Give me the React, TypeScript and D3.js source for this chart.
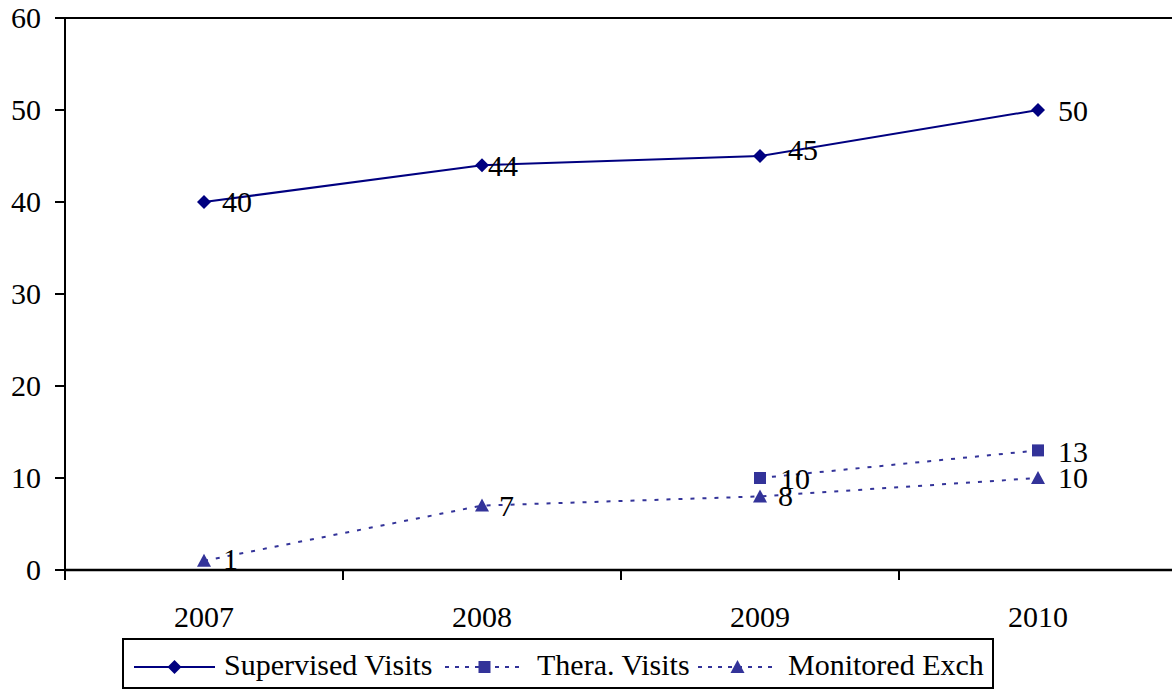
import React from "react";
import * as d3 from "d3";

const years = ["2007", "2008", "2009", "2010"];
const supervised: (number | null)[] = [40, 44, 45, 50];
const thera: (number | null)[] = [null, null, 10, 13];
const monitored: (number | null)[] = [1, 7, 8, 10];
const yTicks = [0, 10, 20, 30, 40, 50, 60];

const W = 1172, H = 690;
const left = 65, right = 1177, top = 18, bottom = 570;
const FONT = "Liberation Serif";

type Series = {
  name: string;
  values: (number | null)[];
  color: string;
  dash: string | null;
  legendDash: string | null;
  marker: "diamond" | "square" | "triangle";
  // label nudges (layout only): [dx, dy] per point
  nudge: [number, number][];
};
const series: Series[] = [
  { name: "Supervised Visits", values: supervised, color: "#000080", dash: null, legendDash: null, marker: "diamond",
    nudge: [[18, 10], [6, 11], [28, 4], [20, 11]] },
  { name: "Thera. Visits", values: thera, color: "#333399", dash: "4,8", legendDash: "4,6", marker: "square",
    nudge: [[19, 11], [19, 11], [20, 11], [20, 12]] },
  { name: "Monitored Exch", values: monitored, color: "#333399", dash: "4,8", legendDash: "4,6", marker: "triangle",
    nudge: [[19, 8], [17, 10], [18, 10], [20, 10]] },
];

function Marker({ kind, x, y, color }: { kind: string; x: number; y: number; color: string }) {
  if (kind === "diamond") return <path d={`M${x},${y - 7}L${x + 7},${y}L${x},${y + 7}L${x - 7},${y}Z`} fill={color} />;
  if (kind === "square") return <rect x={x - 6} y={y - 6} width={12} height={12} fill={color} />;
  return <path d={`M${x},${y - 7}L${x + 7},${y + 6}L${x - 7},${y + 6}Z`} fill={color} />;
}

function T(props: { x: number; y: number; anchor?: string; children: React.ReactNode }) {
  return (
    <text x={props.x} y={props.y} textAnchor={props.anchor || "start"} style={{ fontFamily: FONT, fontSize: 30 }}>
      {props.children}
    </text>
  );
}

export default function App() {
  const x = d3.scaleBand<string>().domain(years).range([left, right]);
  const y = d3.scaleLinear().domain([0, 60]).range([bottom, top]);
  const cx = (yr: string) => (x(yr) as number) + x.bandwidth() / 2;

  const legendItems = [
    { l1: 134, l2: 215, tx: 224 },
    { l1: 445, l2: 524, tx: 537 },
    { l1: 698, l2: 777, tx: 788 },
  ];

  return (
    <svg width={W} height={H} style={{ position: "absolute", left: 0, top: 0, background: "#fff" }}>
      <line x1={left} x2={W} y1={top} y2={top} stroke="#000" strokeWidth={2} />
      <line x1={left} x2={left} y1={top} y2={bottom + 10} stroke="#000" strokeWidth={2} />
      <line x1={left} x2={W} y1={bottom} y2={bottom} stroke="#000" strokeWidth={2.5} />
      {yTicks.map((t) => (
        <g key={t}>
          <line x1={left - 10} x2={left} y1={y(t)} y2={y(t)} stroke="#000" strokeWidth={2} />
          <T x={41} y={y(t) + 10} anchor="end">{t}</T>
        </g>
      ))}
      {years.map((yr) => (
        <g key={yr}>
          <line x1={x(yr) as number} x2={x(yr) as number} y1={bottom} y2={bottom + 10} stroke="#000" strokeWidth={2} />
          <T x={cx(yr)} y={627} anchor="middle">{yr}</T>
        </g>
      ))}
      {series.map((s) => {
        const pts = years.map((yr, i) => ({ yr, i, v: s.values[i] })).filter((p) => p.v !== null) as { yr: string; i: number; v: number }[];
        const line = d3.line<{ yr: string; v: number }>().x((p) => cx(p.yr)).y((p) => y(p.v));
        return (
          <g key={s.name}>
            <path d={line(pts) || ""} fill="none" stroke={s.color} strokeWidth={2} strokeDasharray={s.dash || undefined} />
            {pts.map((p) => (
              <g key={p.yr}>
                <Marker kind={s.marker} x={cx(p.yr)} y={y(p.v)} color={s.color} />
                <T x={cx(p.yr) + s.nudge[p.i][0]} y={y(p.v) + s.nudge[p.i][1]}>{p.v}</T>
              </g>
            ))}
          </g>
        );
      })}
      <rect x={123} y={639} width={870} height={49} fill="#fff" stroke="#000" strokeWidth={2} />
      {series.map((s, i) => {
        const it = legendItems[i];
        const ly = 667;
        return (
          <g key={s.name}>
            <line x1={it.l1} x2={it.l2} y1={ly} y2={ly} stroke={s.color} strokeWidth={2} strokeDasharray={s.legendDash || undefined} />
            <Marker kind={s.marker} x={(it.l1 + it.l2) / 2} y={ly} color={s.color} />
            <T x={it.tx} y={ly + 8}>{s.name}</T>
          </g>
        );
      })}
    </svg>
  );
}
